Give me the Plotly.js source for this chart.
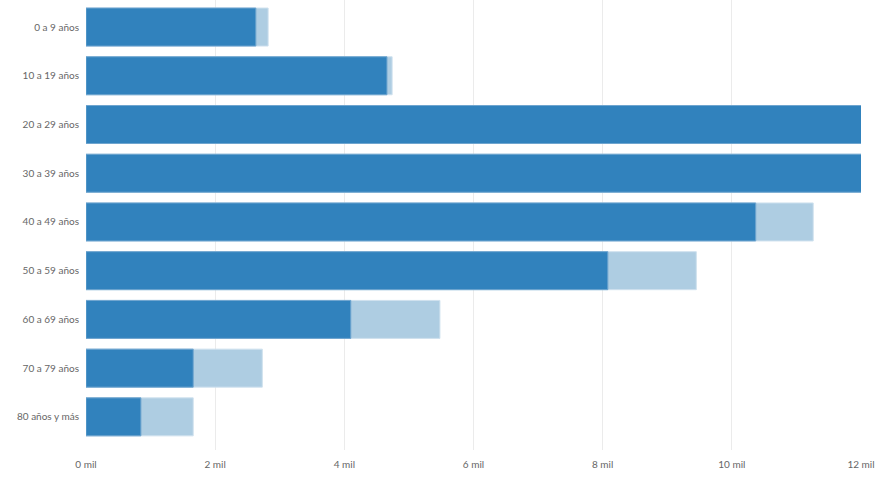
<!DOCTYPE html>
<html>
<head>
<meta charset="utf-8">
<script src="https://cdn.plot.ly/plotly-3.0.1.min.js"></script>
<style>html,body{margin:0;padding:0;background:#fff}#chart{width:885px;height:479px}</style>
</head>
<body>
<div id="chart"></div>
<script>
const categories = ["0 a 9 años","10 a 19 años","20 a 29 años","30 a 39 años","40 a 49 años","50 a 59 años","60 a 69 años","70 a 79 años","80 años y más"];
const lightValues = [2820, 4740, 13500, 13800, 11260, 9450, 5480, 2730, 1660];
const darkValues  = [2630, 4660, 12900, 13200, 10370, 8080, 4100, 1660, 850];
const tickVals = [0, 2000, 4000, 6000, 8000, 10000, 12000];
const tickText = ["0 mil","2 mil","4 mil","6 mil","8 mil","10 mil","12 mil"];

const traces = [
  {type:'bar', orientation:'h', y:categories, x:lightValues, name:'total',
   marker:{color:'#aecde2', line:{color:'#cfe1ee', width:1}}, hoverinfo:'x+y'},
  {type:'bar', orientation:'h', y:categories, x:darkValues, name:'parcial',
   marker:{color:'#3182bd', line:{color:'#6fa5cf', width:1}}, hoverinfo:'x+y'}
];
const layout = {
  width:885, height:479,
  margin:{l:86, r:24, t:0, b:29},
  paper_bgcolor:'#fff', plot_bgcolor:'#fff',
  barmode:'overlay', bargap:0.22,
  showlegend:false,
  font:{family:'Lato, "Noto Sans", sans-serif', size:10, color:'#666'},
  xaxis:{range:[0,12000], tickvals:tickVals, ticktext:tickText, showgrid:true, gridcolor:'#ebebeb',
         zeroline:false, showline:false, ticks:'', ticklabelstandoff:7, fixedrange:true,
         tickfont:{size:10, color:'#666'}},
  yaxis:{type:'category', range:[8.68,-0.555], showgrid:false, zeroline:false, showline:false,
         ticks:'', ticklabelstandoff:6, tickfont:{size:10, color:'#666'}, fixedrange:true}
};
Plotly.newPlot('chart', traces, layout, {displayModeBar:false, staticPlot:true});
</script>
</body>
</html>
